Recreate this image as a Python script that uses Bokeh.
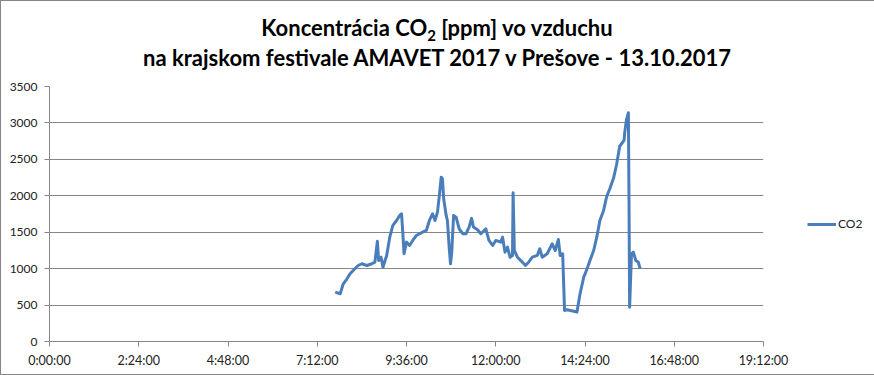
from bokeh.plotting import figure
from bokeh.models import FixedTicker, Legend, LegendItem, Range1d, Div
from bokeh.layouts import column
from bokeh.embed import file_html
from bokeh.resources import INLINE

# --- data ---
times = ["7:41", "7:49", "7:54", "8:00", "8:05", "8:10", "8:18", "8:24", "8:32", "8:40",
         "8:45", "8:49", "8:51", "8:55", "8:58", "9:04", "9:09", "9:14", "9:20", "9:25",
         "9:28", "9:30", "9:32", "9:36", "9:41", "9:46", "9:52", "9:57", "10:02", "10:08",
         "10:13", "10:18", "10:22", "10:26", "10:29", "10:32", "10:34", "10:36", "10:40", "10:42",
         "10:45", "10:47", "10:49", "10:52", "10:56", "11:01", "11:07", "11:12", "11:17", "11:21",
         "11:24", "11:31", "11:36", "11:44", "11:49", "11:55", "12:00", "12:08", "12:11", "12:15",
         "12:19", "12:23", "12:27", "12:28", "12:30", "12:35", "12:43", "12:48", "12:53", "12:59",
         "13:07", "13:11", "13:15", "13:23", "13:31", "13:36", "13:41", "13:44", "13:48", "13:51",
         "13:55", "14:06", "14:11", "14:16", "14:22", "14:27", "14:32", "14:38", "14:43", "14:48",
         "14:54", "14:59", "15:04", "15:10", "15:15", "15:20", "15:23", "15:27", "15:28", "15:31",
         "15:34", "15:35", "15:36", "15:39", "15:42", "15:46", "15:50", "15:53"]
co2 = [677, 655, 792, 861, 929, 975, 1043, 1067, 1043, 1067,
       1089, 1377, 1112, 1157, 1020, 1181, 1432, 1593, 1661, 1730,
       1753, 1500, 1204, 1364, 1318, 1387, 1455, 1479, 1500, 1524,
       1661, 1753, 1661, 1776, 2005, 2256, 2233, 1959, 1730, 1661,
       1273, 1067, 1226, 1730, 1707, 1547, 1479, 1479, 1570, 1690,
       1570, 1530, 1479, 1547, 1387, 1318, 1387, 1364, 1432, 1226,
       1295, 1157, 1181, 2042, 1249, 1157, 1089, 1043, 1089, 1157,
       1181, 1273, 1157, 1204, 1341, 1249, 1400, 1181, 1204, 426,
       435, 416, 403, 655, 883, 990, 1112, 1249, 1432, 1661,
       1799, 1990, 2096, 2240, 2430, 2680, 2714, 2760, 2860, 3050,
       3140, 1936, 471, 1204, 1226, 1112, 1089, 998]
series_name = "CO2"
x_tick_labels = ["0:00:00", "2:24:00", "4:48:00", "7:12:00", "9:36:00",
                 "12:00:00", "14:24:00", "16:48:00", "19:12:00"]
y_ticks = [0, 500, 1000, 1500, 2000, 2500, 3000, 3500]
title_line1 = 'Koncentrácia CO<sub style="font-size:15px;line-height:0">2</sub> [ppm] vo vzduchu'
title_line2 = "na krajskom festivale AMAVET 2017 v Prešove - 13.10.2017"

hours = [int(t.split(":")[0]) + int(t.split(":")[1]) / 60 for t in times]
x_ticks = [i * 2.4 for i in range(len(x_tick_labels))]

FONT = "Lato"
GRAY = "#868686"

title_div = Div(
    text=f"<div>{title_line1}</div><div>{title_line2}</div>",
    width=872, height=72, margin=0,
    styles={"font-family": FONT, "font-weight": "bold", "font-size": "22px",
            "line-height": "30px", "text-align": "center", "color": "black",
            "padding-top": "12px", "box-sizing": "border-box",
            "background-color": "white", "overflow": "hidden"},
)

p = figure(frame_width=714, frame_height=255,
           min_border_left=48, min_border_right=110, min_border_top=13, min_border_bottom=33,
           output_backend="svg", toolbar_location=None,
           x_range=Range1d(0, x_ticks[-1]), y_range=Range1d(y_ticks[0], y_ticks[-1]))
p.title.visible = False
p.outline_line_color = None
p.background_fill_color = "white"
p.border_fill_color = "white"

r = p.line(hours, co2, line_color="#4A7EBB", line_width=3, line_join="round")

p.xgrid.visible = False
p.ygrid.grid_line_color = GRAY
p.ygrid.grid_line_width = 1
p.ygrid.ticker = FixedTicker(ticks=y_ticks)

p.yaxis.ticker = FixedTicker(ticks=y_ticks)
p.xaxis.ticker = FixedTicker(ticks=x_ticks)
p.xaxis.major_label_overrides = {t: lab for t, lab in zip(x_ticks, x_tick_labels)}

for ax in (p.xaxis, p.yaxis):
    ax.axis_line_color = GRAY
    ax.major_tick_line_color = GRAY
    ax.minor_tick_line_color = None
    ax.major_tick_out = 5
    ax.major_tick_in = 0
    ax.major_label_text_font = FONT
    ax.major_label_text_font_size = "12px"
    ax.major_label_text_color = "#222222"
p.xaxis.major_label_text_font_size = "12.5px"
p.yaxis.major_label_standoff = 7
p.xaxis.major_label_standoff = 6

legend = Legend(items=[LegendItem(label=series_name, renderers=[r])],
                location=(44, 110), glyph_width=29, glyph_height=14,
                padding=0, margin=0, label_standoff=2,
                border_line_color=None, background_fill_alpha=0,
                label_text_font=FONT, label_text_font_size="12px",
                label_text_color="#222222")
p.add_layout(legend, "right")

layout = column(title_div, p, spacing=0,
                styles={"border": "1px solid #868686", "background-color": "white"})

open("out.html", "w").write(file_html(layout, INLINE))
